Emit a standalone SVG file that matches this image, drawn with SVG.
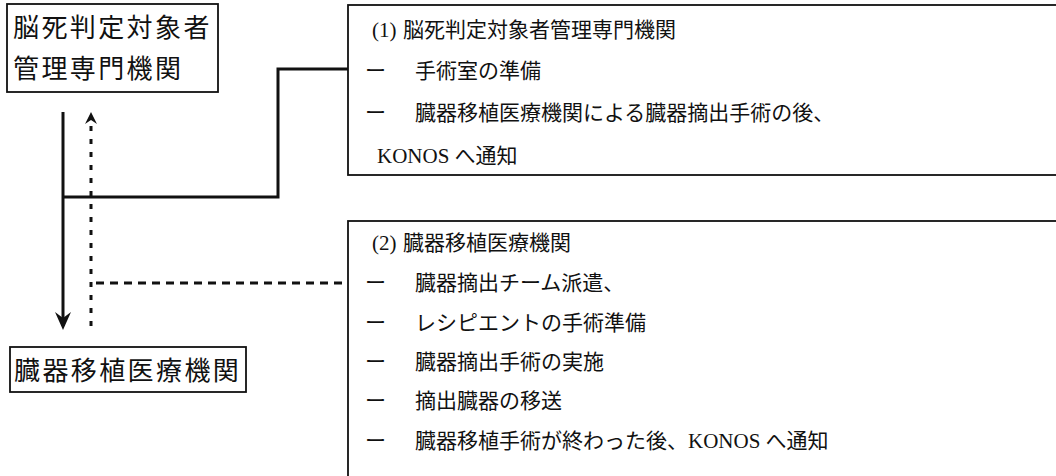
<svg xmlns="http://www.w3.org/2000/svg" width="1056" height="476" viewBox="0 0 1056 476">
<style>
.box{fill:#fff;stroke:#111;stroke-width:1.8}
.big{font-family:"Noto Sans CJK JP","Liberation Sans",sans-serif;font-size:26px;letter-spacing:2.4px;fill:#111}
.txt{font-family:"Liberation Serif","Noto Sans CJK JP",serif;font-size:21px;fill:#111}
.ttl{font-family:"Liberation Serif","Noto Sans CJK JP",serif;font-size:21px;fill:#111}
.solid{fill:none;stroke:#111;stroke-width:3}
.dash{fill:none;stroke:#111;stroke-width:3;stroke-dasharray:8 6}
.dot{fill:none;stroke:#111;stroke-width:3;stroke-dasharray:5 8}
</style>
<rect width="1056" height="476" fill="#fff"/>

<g id="node-brain-death-institution">
<rect class="box" x="7" y="4" width="211" height="88"/>
<text class="big" x="13" y="37">脳死判定対象者</text>
<text class="big" x="13" y="78">管理専門機関</text>
</g>

<g id="node-transplant-institution">
<rect class="box" x="10" y="347" width="236" height="45"/>
<text class="big" x="14" y="380">臓器移植医療機関</text>
</g>

<g id="node-desc-1">
<rect class="box" x="348" y="5" width="720" height="170"/>
<text class="ttl" y="37"><tspan x="372">(1)</tspan><tspan x="403">脳死判定対象者管理専門機関</tspan></text>
<text class="txt" y="78"><tspan x="365">ー</tspan><tspan x="415">手術室の準備</tspan></text>
<text class="txt" y="120"><tspan x="365">ー</tspan><tspan x="415">臓器移植医療機関による臓器摘出手術の後、</tspan></text>
<text class="txt" y="163"><tspan x="377">KONOS へ通知</tspan></text>
</g>

<g id="node-desc-2">
<rect class="box" x="348" y="221" width="720" height="270"/>
<text class="ttl" y="250"><tspan x="372">(2)</tspan><tspan x="403">臓器移植医療機関</tspan></text>
<text class="txt" y="290"><tspan x="365">ー</tspan><tspan x="415">臓器摘出チーム派遣、</tspan></text>
<text class="txt" y="330"><tspan x="365">ー</tspan><tspan x="415">レシピエントの手術準備</tspan></text>
<text class="txt" y="369"><tspan x="365">ー</tspan><tspan x="415">臓器摘出手術の実施</tspan></text>
<text class="txt" y="408"><tspan x="365">ー</tspan><tspan x="415">摘出臓器の移送</tspan></text>
<text class="txt" y="448"><tspan x="365">ー</tspan><tspan x="415">臓器移植手術が終わった後、KONOS へ通知</tspan></text>
</g>

<g id="connectors">
<path class="solid" d="M63,112 V326"/>
<path d="M55,312 L63,330 L71,312 L63,318 Z" fill="#111"/>
<path class="solid" d="M63,197 H278 V69 H348"/>
<path class="dot" d="M91,326 V122"/>
<path d="M85,124 L91,112 L97,124 L91,120 Z" fill="#111"/>
<path class="dash" d="M96,283 H348"/>
</g>
</svg>
